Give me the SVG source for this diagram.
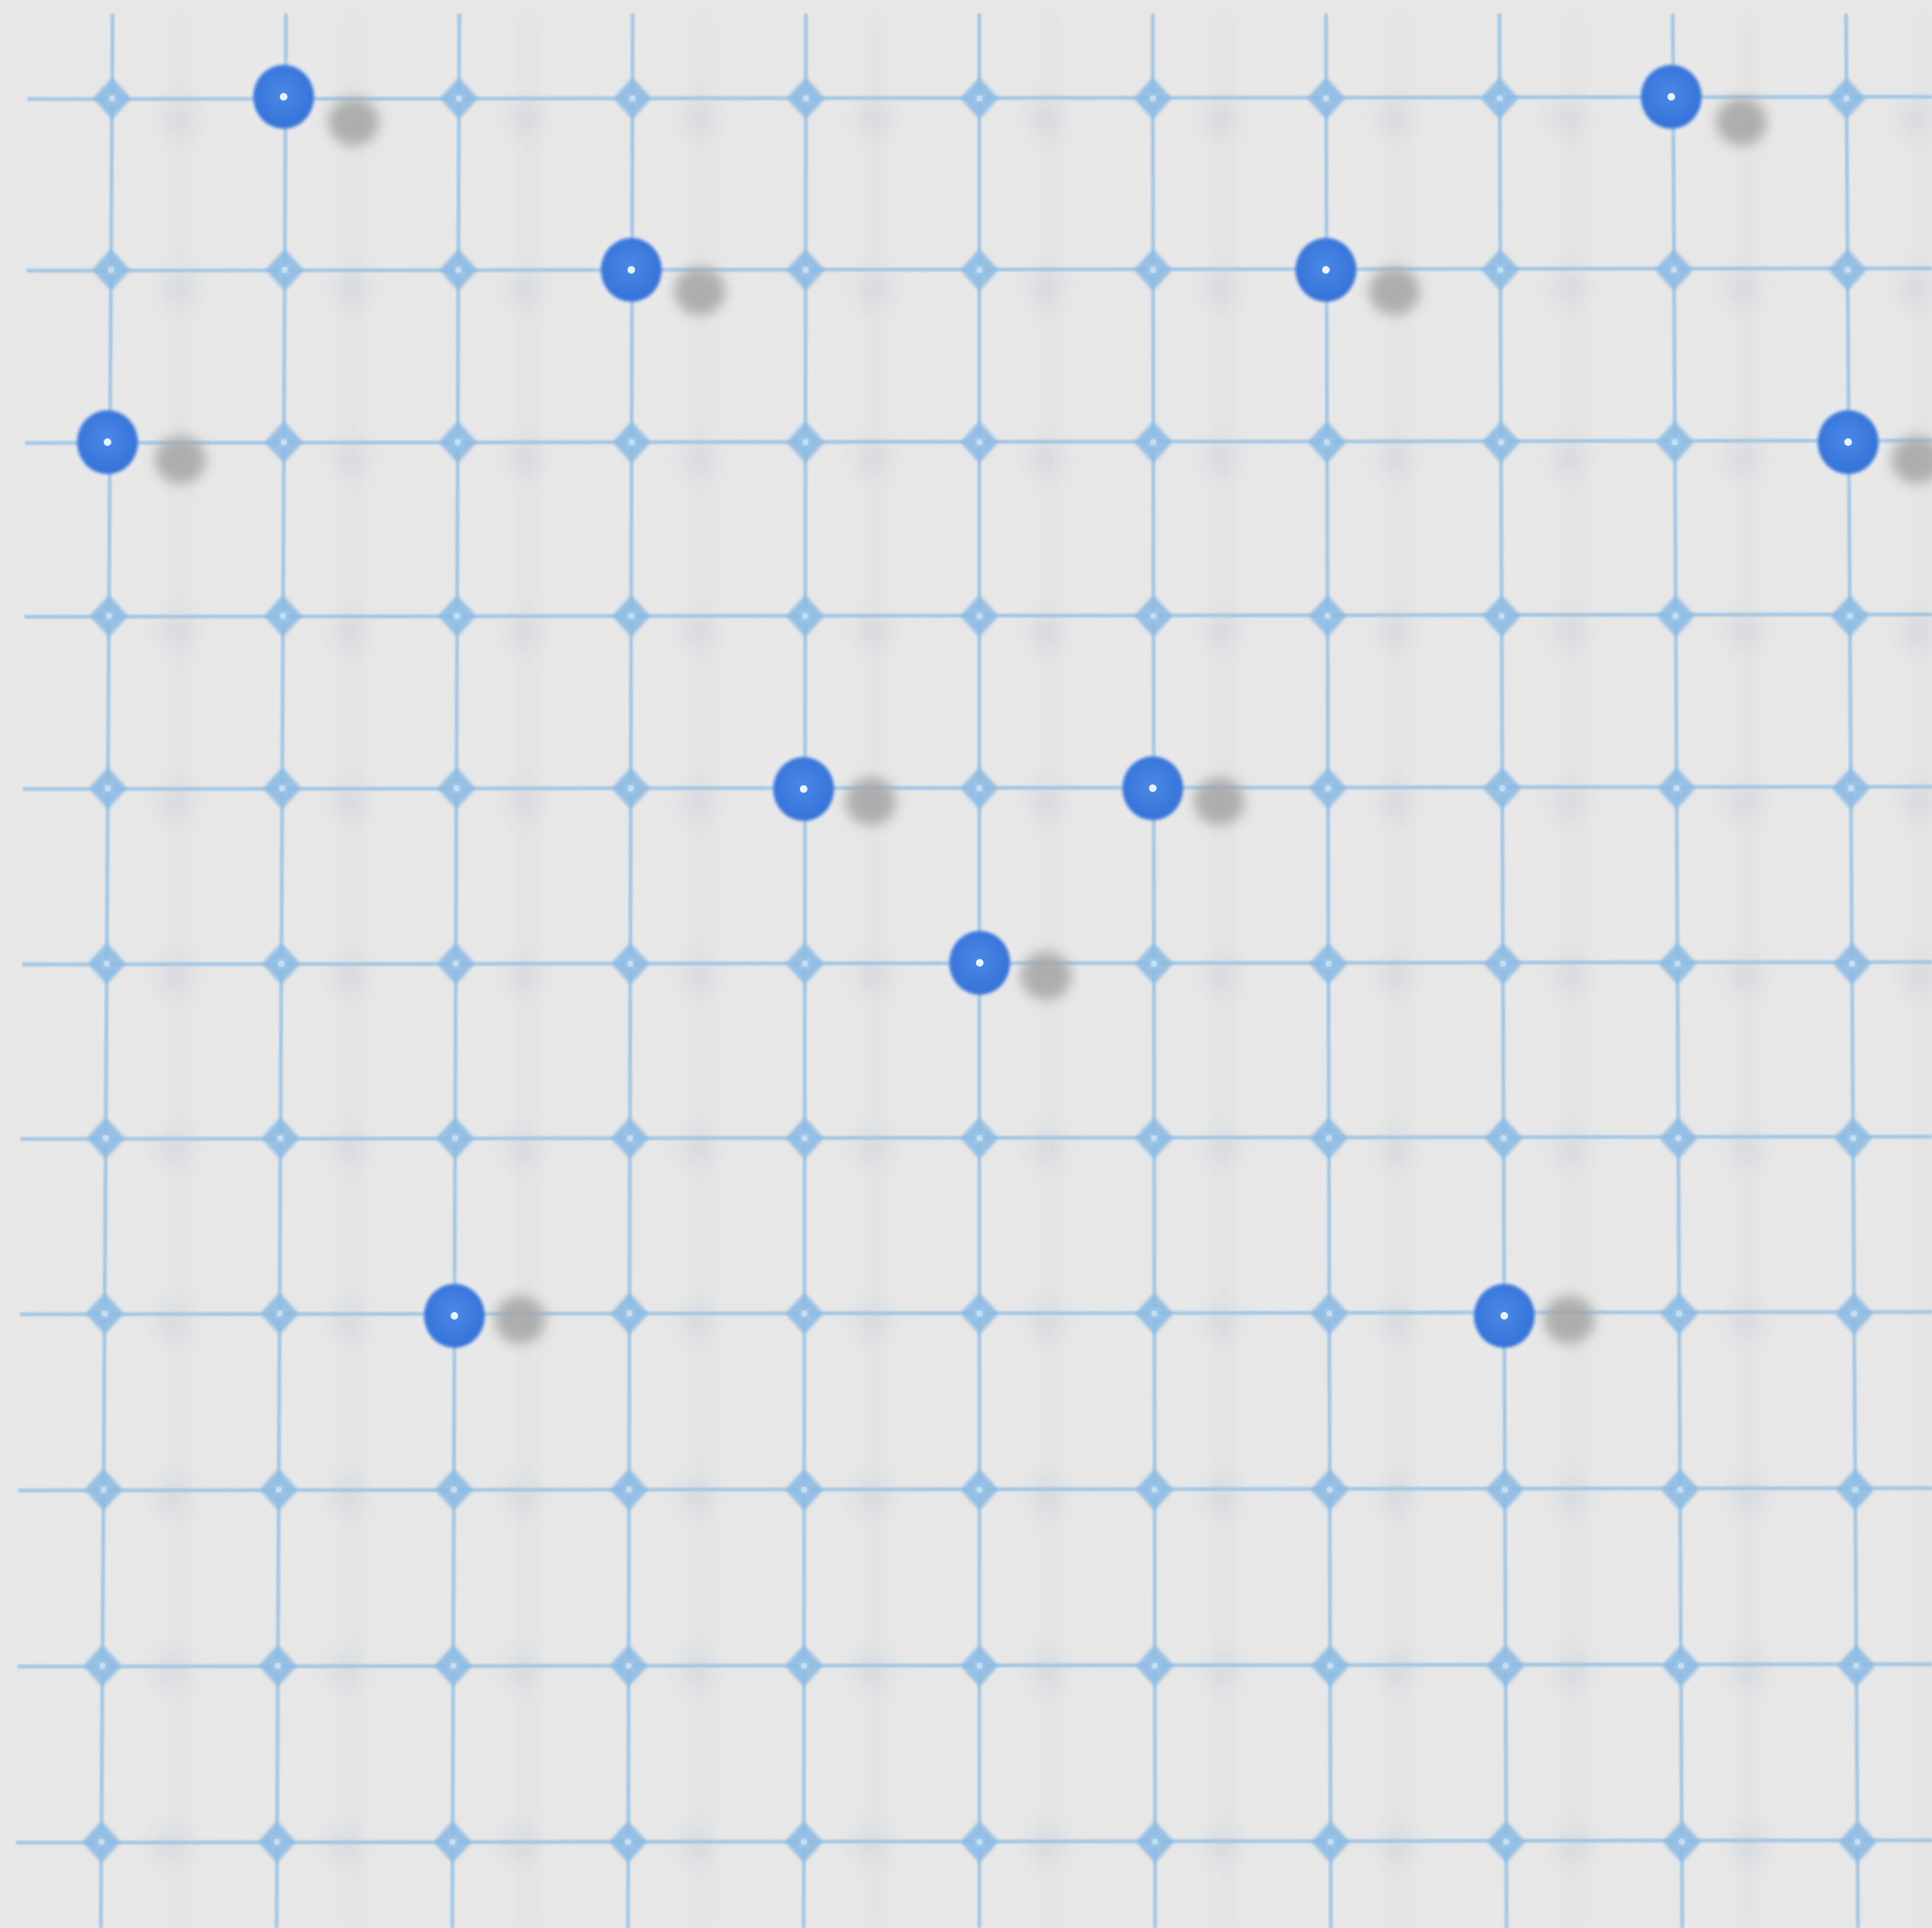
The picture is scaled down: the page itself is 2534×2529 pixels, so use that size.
<svg xmlns="http://www.w3.org/2000/svg" xmlns:xlink="http://www.w3.org/1999/xlink" width="2534" height="2529" viewBox="0 0 2534 2529">
<defs>
<filter id="blurS" x="-100%" y="-100%" width="300%" height="300%"><feGaussianBlur stdDeviation="8"/></filter>
<filter id="blurF" x="-100%" y="-100%" width="300%" height="300%"><feGaussianBlur stdDeviation="11"/></filter>
<filter id="blurB" x="-50%" y="-1%" width="200%" height="102%"><feGaussianBlur stdDeviation="9"/></filter>
<filter id="blurL"><feGaussianBlur stdDeviation="1"/></filter>
<filter id="blurJ" x="-50%" y="-50%" width="200%" height="200%"><feGaussianBlur stdDeviation="2.2"/></filter>
<filter id="blurP" x="-50%" y="-50%" width="200%" height="200%"><feGaussianBlur stdDeviation="2"/></filter>
<radialGradient id="pinG" cx="0.48" cy="0.45" r="0.6">
<stop offset="0" stop-color="#4a88e6"/>
<stop offset="0.7" stop-color="#3a77dc"/>
<stop offset="1" stop-color="#3170d6"/>
</radialGradient>
<radialGradient id="junG" cx="0.5" cy="0.5" r="0.5">
<stop offset="0" stop-color="#add0ee"/>
<stop offset="0.5" stop-color="#88b9e2"/>
<stop offset="1" stop-color="#92bee4"/>
</radialGradient>
<g id="j">
<path d="M0,-21 L19,0 L0,21 L-19,0Z" fill="url(#junG)" stroke="#8dbbe3" stroke-width="9" stroke-linejoin="round" opacity="0.9" filter="url(#blurJ)"/>
<circle r="4" fill="#d2e6f7" opacity="0.7"/>
</g>
<circle id="js" r="24" fill="#aebdd0" opacity="0.2" filter="url(#blurF)"/>
<g id="pin">
<circle r="46" fill="#ffffff" opacity="0.18" filter="url(#blurS)"/>
<ellipse rx="40" ry="42" fill="url(#pinG)" filter="url(#blurP)"/>
<circle r="5" fill="#e8f4ff"/>
</g>
</defs>
<style>
.h{stroke:#a4c8e4;stroke-width:5;fill:none}
.v{stroke:#a4c8e4;stroke-width:5;fill:none}
.band{fill:#b8c2cc;opacity:0.09}
.shadow{fill:#a6a6a6;opacity:0.85}
</style>
<rect width="2534" height="2529" fill="#e7e7e7"/>

<g id="line-shadows" filter="url(#blurB)">
<rect class="band" x="228" y="20" width="18" height="2509"/>
<rect class="band" x="455" y="20" width="18" height="2509"/>
<rect class="band" x="683" y="20" width="18" height="2509"/>
<rect class="band" x="911" y="20" width="18" height="2509"/>
<rect class="band" x="1140" y="20" width="18" height="2509"/>
<rect class="band" x="1368" y="20" width="18" height="2509"/>
<rect class="band" x="1597" y="20" width="18" height="2509"/>
<rect class="band" x="1826" y="20" width="18" height="2509"/>
<rect class="band" x="2055" y="20" width="18" height="2509"/>
<rect class="band" x="2284" y="20" width="18" height="2509"/>
<rect class="band" x="2513" y="20" width="18" height="2509"/>
</g>

<g id="connectors" filter="url(#blurL)">
<line class="v" x1="147.7" y1="18" x2="132.3" y2="2529"/>
<line class="v" x1="375.1" y1="18" x2="362.8" y2="2529"/>
<line class="v" x1="602.4" y1="18" x2="593.2" y2="2529"/>
<line class="v" x1="829.8" y1="18" x2="823.7" y2="2529"/>
<line class="v" x1="1057.1" y1="18" x2="1054.1" y2="2529"/>
<line class="v" x1="1284.5" y1="18" x2="1284.6" y2="2529"/>
<line class="v" x1="1511.9" y1="18" x2="1515.1" y2="2529"/>
<line class="v" x1="1739.2" y1="18" x2="1745.5" y2="2529"/>
<line class="v" x1="1966.6" y1="18" x2="1976.0" y2="2529"/>
<line class="v" x1="2194.0" y1="18" x2="2206.4" y2="2529"/>
<line class="v" x1="2421.3" y1="18" x2="2436.9" y2="2529"/>
<line class="h" x1="36" y1="130" x2="2534" y2="127"/>
<line class="h" x1="35" y1="355" x2="2534" y2="352"/>
<line class="h" x1="33" y1="581" x2="2534" y2="578"/>
<line class="h" x1="32" y1="809" x2="2534" y2="806"/>
<line class="h" x1="30" y1="1035" x2="2534" y2="1032"/>
<line class="h" x1="29" y1="1265" x2="2534" y2="1262"/>
<line class="h" x1="27" y1="1494" x2="2534" y2="1491"/>
<line class="h" x1="26" y1="1724" x2="2534" y2="1721"/>
<line class="h" x1="24" y1="1955" x2="2534" y2="1952"/>
<line class="h" x1="23" y1="2186" x2="2534" y2="2183"/>
<line class="h" x1="21" y1="2417" x2="2534" y2="2414"/>
</g>

<g id="junction-shadows">
<use href="#js" x="235" y="155"/><use href="#js" x="462" y="155"/><use href="#js" x="690" y="155"/><use href="#js" x="917" y="155"/><use href="#js" x="1145" y="155"/><use href="#js" x="1372" y="155"/><use href="#js" x="1600" y="155"/><use href="#js" x="1827" y="155"/><use href="#js" x="2055" y="155"/><use href="#js" x="2282" y="155"/><use href="#js" x="2510" y="155"/>
<use href="#js" x="234" y="378"/><use href="#js" x="461" y="378"/><use href="#js" x="689" y="378"/><use href="#js" x="917" y="378"/><use href="#js" x="1145" y="378"/><use href="#js" x="1372" y="378"/><use href="#js" x="1600" y="378"/><use href="#js" x="1828" y="378"/><use href="#js" x="2056" y="378"/><use href="#js" x="2284" y="378"/><use href="#js" x="2511" y="378"/>
<use href="#js" x="232" y="602"/><use href="#js" x="460" y="602"/><use href="#js" x="688" y="602"/><use href="#js" x="916" y="602"/><use href="#js" x="1144" y="602"/><use href="#js" x="1372" y="602"/><use href="#js" x="1601" y="602"/><use href="#js" x="1829" y="602"/><use href="#js" x="2057" y="602"/><use href="#js" x="2285" y="602"/><use href="#js" x="2513" y="602"/>
<use href="#js" x="231" y="828"/><use href="#js" x="459" y="828"/><use href="#js" x="687" y="828"/><use href="#js" x="916" y="828"/><use href="#js" x="1144" y="828"/><use href="#js" x="1372" y="828"/><use href="#js" x="1601" y="828"/><use href="#js" x="1829" y="828"/><use href="#js" x="2058" y="828"/><use href="#js" x="2286" y="828"/><use href="#js" x="2514" y="828"/>
<use href="#js" x="229" y="1052"/><use href="#js" x="458" y="1052"/><use href="#js" x="687" y="1052"/><use href="#js" x="915" y="1052"/><use href="#js" x="1144" y="1052"/><use href="#js" x="1372" y="1052"/><use href="#js" x="1601" y="1052"/><use href="#js" x="1830" y="1052"/><use href="#js" x="2058" y="1052"/><use href="#js" x="2287" y="1052"/><use href="#js" x="2516" y="1052"/>
<use href="#js" x="228" y="1280"/><use href="#js" x="457" y="1280"/><use href="#js" x="686" y="1280"/><use href="#js" x="915" y="1280"/><use href="#js" x="1144" y="1280"/><use href="#js" x="1373" y="1280"/><use href="#js" x="1602" y="1280"/><use href="#js" x="1830" y="1280"/><use href="#js" x="2059" y="1280"/><use href="#js" x="2288" y="1280"/><use href="#js" x="2517" y="1280"/>
<use href="#js" x="227" y="1506"/><use href="#js" x="456" y="1506"/><use href="#js" x="685" y="1506"/><use href="#js" x="914" y="1506"/><use href="#js" x="1143" y="1506"/><use href="#js" x="1373" y="1506"/><use href="#js" x="1602" y="1506"/><use href="#js" x="1831" y="1506"/><use href="#js" x="2060" y="1506"/><use href="#js" x="2289" y="1506"/>
<use href="#js" x="225" y="1733"/><use href="#js" x="455" y="1733"/><use href="#js" x="684" y="1733"/><use href="#js" x="914" y="1733"/><use href="#js" x="1143" y="1733"/><use href="#js" x="1373" y="1733"/><use href="#js" x="1602" y="1733"/><use href="#js" x="1832" y="1733"/><use href="#js" x="2061" y="1733"/><use href="#js" x="2290" y="1733"/>
<use href="#js" x="224" y="1962"/><use href="#js" x="454" y="1962"/><use href="#js" x="683" y="1962"/><use href="#js" x="913" y="1962"/><use href="#js" x="1143" y="1962"/><use href="#js" x="1373" y="1962"/><use href="#js" x="1602" y="1962"/><use href="#js" x="1832" y="1962"/><use href="#js" x="2062" y="1962"/><use href="#js" x="2292" y="1962"/>
<use href="#js" x="222" y="2191"/><use href="#js" x="452" y="2191"/><use href="#js" x="682" y="2191"/><use href="#js" x="912" y="2191"/><use href="#js" x="1142" y="2191"/><use href="#js" x="1373" y="2191"/><use href="#js" x="1603" y="2191"/><use href="#js" x="1833" y="2191"/><use href="#js" x="2063" y="2191"/><use href="#js" x="2293" y="2191"/>
<use href="#js" x="221" y="2420"/><use href="#js" x="451" y="2420"/><use href="#js" x="682" y="2420"/><use href="#js" x="912" y="2420"/><use href="#js" x="1142" y="2420"/><use href="#js" x="1373" y="2420"/><use href="#js" x="1603" y="2420"/><use href="#js" x="1833" y="2420"/><use href="#js" x="2064" y="2420"/><use href="#js" x="2294" y="2420"/>
</g>

<g id="junctions">
<use href="#j" x="147.0" y="129"/><use href="#j" x="374.5" y="129"/><use href="#j" x="602.0" y="129"/><use href="#j" x="829.5" y="129"/><use href="#j" x="1057.0" y="129"/><use href="#j" x="1284.5" y="129"/><use href="#j" x="1512.0" y="129"/><use href="#j" x="1739.4" y="129"/><use href="#j" x="1966.9" y="129"/><use href="#j" x="2194.4" y="129"/><use href="#j" x="2421.9" y="129"/>
<use href="#j" x="145.7" y="354"/><use href="#j" x="373.4" y="354"/><use href="#j" x="601.2" y="354"/><use href="#j" x="829.0" y="354"/><use href="#j" x="1056.7" y="354"/><use href="#j" x="1284.5" y="354"/><use href="#j" x="1512.3" y="354"/><use href="#j" x="1740.0" y="354"/><use href="#j" x="1967.8" y="354"/><use href="#j" x="2195.6" y="354"/><use href="#j" x="2423.4" y="354"/>
<use href="#j" x="144.3" y="580"/><use href="#j" x="372.3" y="580"/><use href="#j" x="600.4" y="580"/><use href="#j" x="828.4" y="580"/><use href="#j" x="1056.5" y="580"/><use href="#j" x="1284.5" y="580"/><use href="#j" x="1512.6" y="580"/><use href="#j" x="1740.6" y="580"/><use href="#j" x="1968.7" y="580"/><use href="#j" x="2196.7" y="580"/><use href="#j" x="2424.8" y="580"/>
<use href="#j" x="142.9" y="808"/><use href="#j" x="371.2" y="808"/><use href="#j" x="599.5" y="808"/><use href="#j" x="827.9" y="808"/><use href="#j" x="1056.2" y="808"/><use href="#j" x="1284.5" y="808"/><use href="#j" x="1512.8" y="808"/><use href="#j" x="1741.2" y="808"/><use href="#j" x="1969.5" y="808"/><use href="#j" x="2197.8" y="808"/><use href="#j" x="2426.2" y="808"/>
<use href="#j" x="141.5" y="1034"/><use href="#j" x="370.1" y="1034"/><use href="#j" x="598.7" y="1034"/><use href="#j" x="827.3" y="1034"/><use href="#j" x="1055.9" y="1034"/><use href="#j" x="1284.5" y="1034"/><use href="#j" x="1513.1" y="1034"/><use href="#j" x="1741.8" y="1034"/><use href="#j" x="1970.4" y="1034"/><use href="#j" x="2199.0" y="1034"/><use href="#j" x="2427.6" y="1034"/>
<use href="#j" x="140.1" y="1264"/><use href="#j" x="369.0" y="1264"/><use href="#j" x="597.9" y="1264"/><use href="#j" x="826.8" y="1264"/><use href="#j" x="1055.7" y="1264"/><use href="#j" x="1284.6" y="1264"/><use href="#j" x="1513.5" y="1264"/><use href="#j" x="1742.4" y="1264"/><use href="#j" x="1971.3" y="1264"/><use href="#j" x="2200.2" y="1264"/><use href="#j" x="2429.1" y="1264"/>
<use href="#j" x="138.7" y="1493"/><use href="#j" x="367.8" y="1493"/><use href="#j" x="597.0" y="1493"/><use href="#j" x="826.2" y="1493"/><use href="#j" x="1055.4" y="1493"/><use href="#j" x="1284.6" y="1493"/><use href="#j" x="1513.7" y="1493"/><use href="#j" x="1742.9" y="1493"/><use href="#j" x="1972.1" y="1493"/><use href="#j" x="2201.3" y="1493"/><use href="#j" x="2430.5" y="1493"/>
<use href="#j" x="137.3" y="1723"/><use href="#j" x="366.7" y="1723"/><use href="#j" x="596.2" y="1723"/><use href="#j" x="825.6" y="1723"/><use href="#j" x="1055.1" y="1723"/><use href="#j" x="1284.6" y="1723"/><use href="#j" x="1514.0" y="1723"/><use href="#j" x="1743.5" y="1723"/><use href="#j" x="1972.9" y="1723"/><use href="#j" x="2202.4" y="1723"/><use href="#j" x="2431.9" y="1723"/>
<use href="#j" x="135.8" y="1954"/><use href="#j" x="365.6" y="1954"/><use href="#j" x="595.3" y="1954"/><use href="#j" x="825.1" y="1954"/><use href="#j" x="1054.8" y="1954"/><use href="#j" x="1284.6" y="1954"/><use href="#j" x="1514.3" y="1954"/><use href="#j" x="1744.1" y="1954"/><use href="#j" x="1973.8" y="1954"/><use href="#j" x="2203.6" y="1954"/><use href="#j" x="2433.3" y="1954"/>
<use href="#j" x="134.4" y="2185"/><use href="#j" x="364.4" y="2185"/><use href="#j" x="594.5" y="2185"/><use href="#j" x="824.5" y="2185"/><use href="#j" x="1054.5" y="2185"/><use href="#j" x="1284.6" y="2185"/><use href="#j" x="1514.6" y="2185"/><use href="#j" x="1744.6" y="2185"/><use href="#j" x="1974.7" y="2185"/><use href="#j" x="2204.7" y="2185"/><use href="#j" x="2434.7" y="2185"/>
<use href="#j" x="133.0" y="2416"/><use href="#j" x="363.3" y="2416"/><use href="#j" x="593.6" y="2416"/><use href="#j" x="823.9" y="2416"/><use href="#j" x="1054.3" y="2416"/><use href="#j" x="1284.6" y="2416"/><use href="#j" x="1514.9" y="2416"/><use href="#j" x="1745.2" y="2416"/><use href="#j" x="1975.5" y="2416"/><use href="#j" x="2205.8" y="2416"/><use href="#j" x="2436.2" y="2416"/>
</g>

<g id="pin-shadows" filter="url(#blurS)">
<ellipse class="shadow" cx="464" cy="160" rx="33" ry="31"/>
<ellipse class="shadow" cx="2284" cy="160" rx="33" ry="31"/>
<ellipse class="shadow" cx="918" cy="382" rx="33" ry="31"/>
<ellipse class="shadow" cx="1829" cy="382" rx="33" ry="31"/>
<ellipse class="shadow" cx="237" cy="603" rx="33" ry="31"/>
<ellipse class="shadow" cx="2514" cy="603" rx="33" ry="31"/>
<ellipse class="shadow" cx="1142" cy="1051" rx="33" ry="31"/>
<ellipse class="shadow" cx="1599" cy="1051" rx="33" ry="31"/>
<ellipse class="shadow" cx="1372" cy="1280" rx="33" ry="31"/>
<ellipse class="shadow" cx="682" cy="1731" rx="33" ry="31"/>
<ellipse class="shadow" cx="2058" cy="1731" rx="33" ry="31"/>
</g>

<g id="pin-1"><use href="#pin" x="372" y="127"/></g>
<g id="pin-2"><use href="#pin" x="2192" y="127"/></g>
<g id="pin-3"><use href="#pin" x="828" y="354"/></g>
<g id="pin-4"><use href="#pin" x="1739" y="354"/></g>
<g id="pin-5"><use href="#pin" x="141" y="580"/></g>
<g id="pin-6"><use href="#pin" x="2424" y="580"/></g>
<g id="pin-7"><use href="#pin" x="1054" y="1035"/></g>
<g id="pin-8"><use href="#pin" x="1512" y="1034"/></g>
<g id="pin-9"><use href="#pin" x="1285" y="1263"/></g>
<g id="pin-10"><use href="#pin" x="596" y="1726"/></g>
<g id="pin-11"><use href="#pin" x="1973" y="1726"/></g>
</svg>
